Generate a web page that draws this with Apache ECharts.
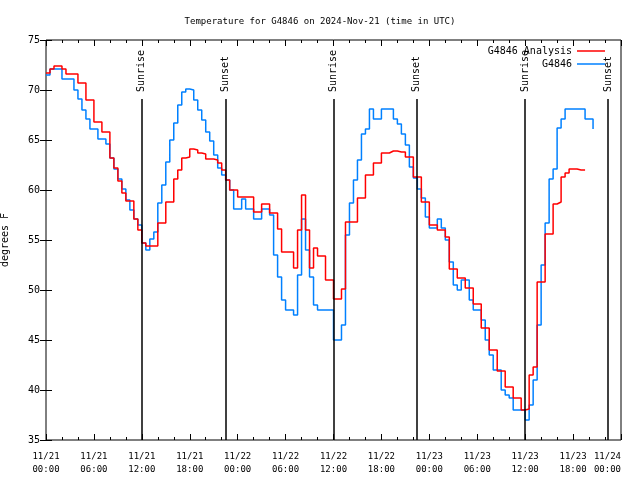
<!DOCTYPE html>
<html><head><meta charset="utf-8">
<script src="https://cdn.jsdelivr.net/npm/echarts@6/dist/echarts.min.js"></script>
<style>html,body{margin:0;padding:0;background:#fff}#c{width:640px;height:480px}</style>
</head><body><div id="c"></div>
<script>
// Time grid: hours since 2024-11-21 00:00 UTC, one sample every half hour
const sampleStepHours = 0.5;

// G4846 observations (degrees F), one value per half hour starting 11/21 00:00
const observed = [
 71.5,72.1,72.1,72.1,71.1,71.1,71.1,70.0,69.1,68.0,67.1,66.1,66.1,65.1,65.1,64.6,
 63.2,62.1,61.1,60.1,59.0,58.0,57.1,56.5,54.7,54.0,55.1,55.8,58.7,60.5,62.8,65.0,
 66.7,68.5,69.8,70.1,70.0,69.0,68.0,67.0,65.8,64.9,63.5,62.2,61.5,61.0,60.0,58.1,
 58.1,59.1,58.1,58.1,57.1,57.1,58.1,58.1,57.5,53.5,51.3,49.0,48.0,48.0,47.5,51.5,
 57.1,54.0,51.3,48.5,48.0,48.0,48.0,48.0,45.0,45.0,46.5,55.5,58.7,61.0,63.0,65.6,
 66.1,68.1,67.1,67.1,68.1,68.1,68.1,67.1,66.6,65.6,64.5,62.3,61.2,60.1,59.2,57.3,
 56.2,56.2,57.1,56.2,55.0,52.8,50.5,50.0,51.0,51.0,49.0,48.0,48.0,47.0,45.0,43.5,
 42.0,42.0,40.0,39.5,39.2,38.0,38.0,38.0,37.0,38.5,41.0,46.5,52.5,56.7,61.1,62.1,
 66.2,67.1,68.1,68.1,68.1,68.1,68.1,67.1,67.1,66.1
];

// G4846 Analysis (degrees F), same time grid
const analysis = [
 71.7,72.1,72.4,72.4,72.1,71.6,71.6,71.6,70.7,70.7,69.0,69.0,66.8,66.8,65.8,65.8,
 63.2,62.2,60.9,59.7,58.9,58.9,57.1,56.0,54.7,54.4,54.4,54.4,56.7,56.7,58.8,58.8,
 61.1,62.0,63.2,63.3,64.1,64.0,63.7,63.6,63.1,63.1,63.0,62.7,62.0,61.0,60.0,60.0,
 59.3,59.3,59.3,59.3,57.8,57.8,58.6,58.6,57.7,57.7,56.1,53.8,53.8,53.8,52.2,56.0,
 59.5,56.0,52.2,54.2,53.4,53.4,51.0,51.0,49.1,49.1,50.1,56.8,56.8,56.8,59.2,59.2,
 61.5,61.5,62.7,62.7,63.7,63.7,63.9,63.9,63.8,63.8,63.3,63.3,61.3,61.3,58.8,58.8,
 56.5,56.5,56.0,56.0,55.3,52.1,52.1,51.2,51.2,50.2,50.2,48.6,48.6,46.2,46.2,44.0,
 44.0,41.9,41.9,40.3,40.3,39.2,39.2,38.0,38.1,41.5,42.3,50.8,50.8,55.6,55.6,58.6,
 58.8,61.3,61.7,62.1,62.1,62.0,62.0,62.0
];

// x tick labels every 6 hours
const xTickLabels = [
 '11/21\n00:00','11/21\n06:00','11/21\n12:00','11/21\n18:00',
 '11/22\n00:00','11/22\n06:00','11/22\n12:00','11/22\n18:00',
 '11/23\n00:00','11/23\n06:00','11/23\n12:00','11/23\n18:00','11/24\n00:00'
];

// Sunrise / sunset marks (hours since 11/21 00:00)
const sunTimes  = [12.0, 22.5, 36.0, 46.4, 60.0, 70.4];
const sunLabels = ['Sunrise','Sunset','Sunrise','Sunset','Sunrise','Sunset'];

const FONT = 'DejaVu Sans Mono';
const toPairs = arr => arr.map((v, i) => [i * sampleStepHours, v]);

const chart = echarts.init(document.getElementById('c'), null, {renderer: 'canvas'});
const tickCommon = {
  axisLine: {show: false},
  axisTick: {show: true, inside: true, length: 6, lineStyle: {color: '#000', width: 1}},
  minorTick: {show: true, splitNumber: 3, length: 3, lineStyle: {color: '#000', width: 1}},
  splitLine: {show: false}
};
const option = {
  animation: false,
  backgroundColor: '#fff',
  textStyle: {fontFamily: FONT},
  title: {
    text: 'Temperature for G4846 on 2024-Nov-21 (time in UTC)',
    left: 'center', top: 12,
    textStyle: {fontFamily: FONT, fontSize: 9, fontWeight: 'normal', color: '#000'}
  },
  legend: [
    {data: ['G4846 Analysis'], right: 30, top: 41, align: 'right', icon: 'rect',
     itemWidth: 28, itemHeight: 1.5, itemGap: 0,
     textStyle: {fontFamily: FONT, fontSize: 10, color: '#000'}},
    {data: ['G4846'], right: 30, top: 54, align: 'right', icon: 'rect',
     itemWidth: 28, itemHeight: 1.5, itemGap: 0,
     textStyle: {fontFamily: FONT, fontSize: 10, color: '#000'}}
  ],
  grid: {left: 46, right: 19, top: 40, bottom: 40, show: true, borderColor: '#000', borderWidth: 1,
         backgroundColor: 'transparent', containLabel: false, outerBoundsMode: 'none'},
  xAxis: [
    Object.assign({type: 'value', min: 0, max: 72, interval: 6, position: 'bottom',
      axisLabel: {fontFamily: FONT, fontSize: 9, color: '#000', margin: 10, lineHeight: 13,
        alignMaxLabel: 'right',
        formatter: v => xTickLabels[Math.round(v / 6)] || ''}}, tickCommon),
    Object.assign({type: 'value', min: 0, max: 72, interval: 6, position: 'top',
      axisLabel: {show: false}}, tickCommon)
  ],
  yAxis: [
    {type: 'value', min: 35, max: 75, interval: 5, position: 'left',
     name: 'degrees F', nameLocation: 'middle', nameGap: 36, nameRotate: 90,
     nameTextStyle: {fontFamily: FONT, fontSize: 10, color: '#000'},
     axisLine: {show: false}, splitLine: {show: false},
     axisTick: {show: true, inside: true, length: 6, lineStyle: {color: '#000'}},
     axisLabel: {fontFamily: FONT, fontSize: 10, color: '#000', margin: 6}},
    {type: 'value', min: 35, max: 75, interval: 5, position: 'right',
     axisLine: {show: false}, splitLine: {show: false},
     axisTick: {show: true, inside: true, length: 6, lineStyle: {color: '#000'}},
     axisLabel: {show: false}}
  ],
  series: [
    {
      name: 'G4846 Analysis', type: 'line', step: 'end', symbol: 'none',
      data: toPairs(analysis),
      lineStyle: {color: '#ff0000', width: 1.5}, itemStyle: {color: '#ff0000'},
      z: 3,
      markLine: {
        silent: true, symbol: 'none', animation: false,
        lineStyle: {color: '#000', width: 1.5, type: 'solid'},
        label: {show: false},
        data: sunTimes.map(t => [{coord: [t, 35]}, {coord: [t, 69.1]}])
      },
      markPoint: {
        silent: true, symbol: 'circle', symbolSize: 0, animation: false,
        label: {show: true, position: [0, 0], rotate: 90, align: 'left', verticalAlign: 'middle',
          fontFamily: FONT, fontSize: 10, color: '#000', formatter: p => p.name},
        data: sunTimes.map((t, i) => ({name: sunLabels[i], coord: [t, 69.8], value: sunLabels[i]}))
      }
    },
    {
      name: 'G4846', type: 'line', step: 'end', symbol: 'none',
      data: toPairs(observed),
      lineStyle: {color: '#0080ff', width: 1.5}, itemStyle: {color: '#0080ff'},
      z: 2
    }
  ]
};
chart.setOption(option);
</script>
</body></html>
